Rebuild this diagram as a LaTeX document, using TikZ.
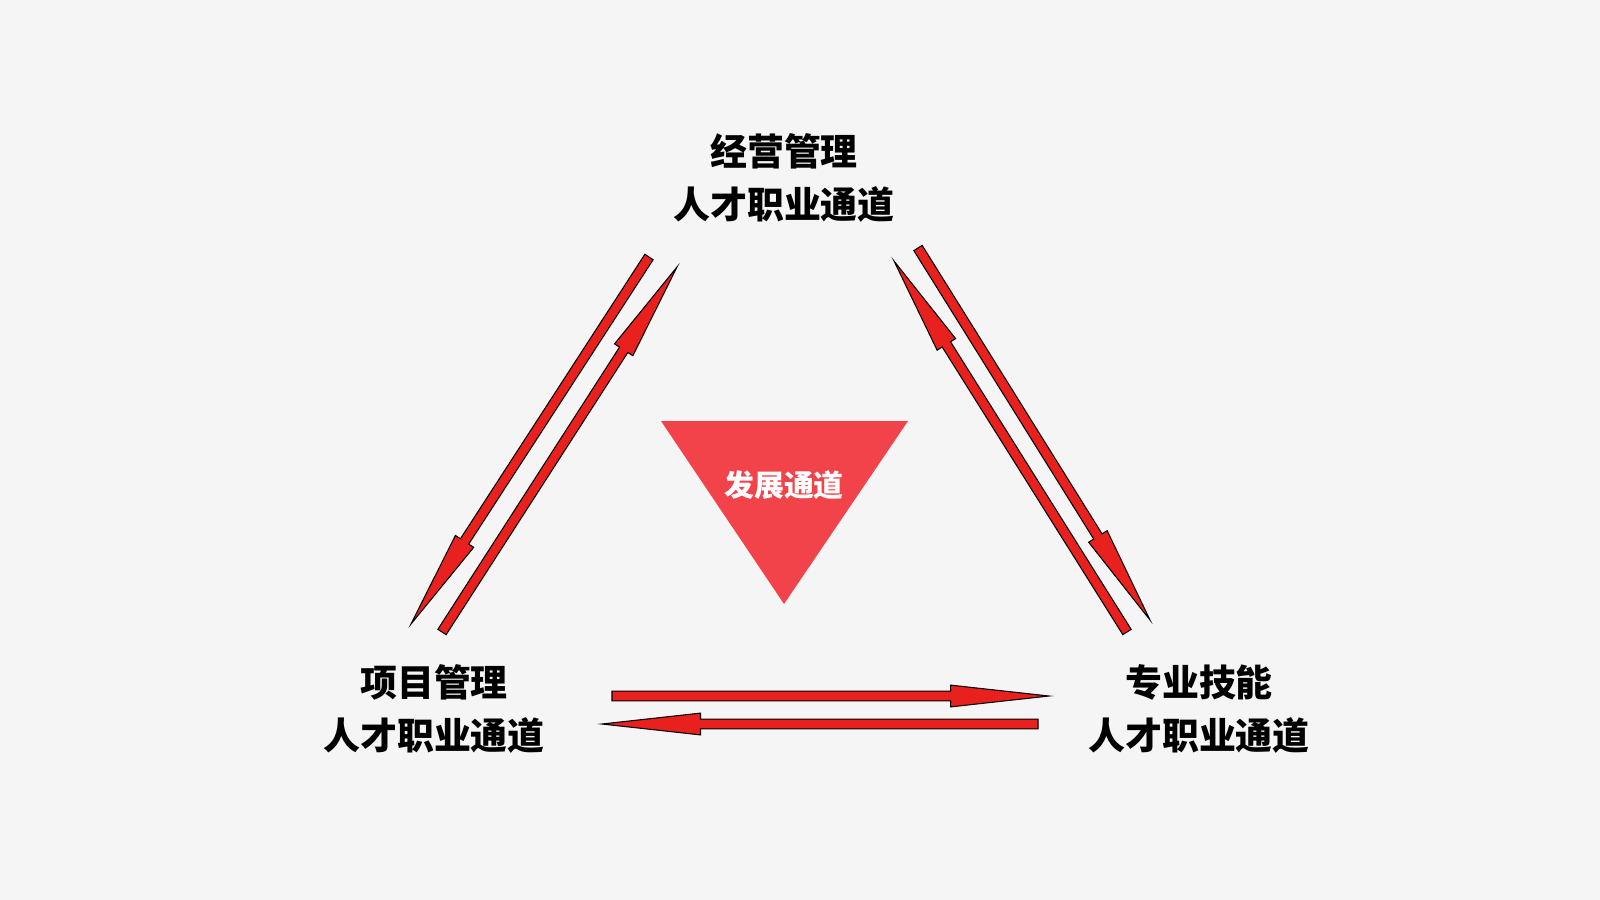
\documentclass[tikz,border=0pt]{standalone}
\usepackage{fontspec}
\newfontfamily\cjk{Noto Sans CJK SC}
\usetikzlibrary{calc}
\definecolor{bg}{HTML}{F5F5F5}
\definecolor{arrowred}{HTML}{E8211E}
\definecolor{trired}{HTML}{F2434A}
\tikzset{
  lbl/.style={font=\cjk\bfseries\fontsize{10.5}{15}\selectfont, align=center, text=black},
  tri/.style={fill=trired, draw=none},
}
% red arrow with a thin black rim, from #1 to #2
\newcommand\redarrow[2]{%
\path let \p1=($(#2)-(#1)$), \n1={atan2(\y1,\x1)}, \n2={veclen(\x1,\y1)} in
  [shift={(#1)}, rotate=\n1]
  [fill=arrowred, draw=black, line width=0.3pt]
  (0pt,-1.4pt) -- (\n2-28pt,-1.4pt) -- (\n2-28pt,-3.1pt) -- (\n2,0pt)
  -- (\n2-28pt,3.1pt) -- (\n2-28pt,1.4pt) -- (0pt,1.4pt) -- cycle;}
\begin{document}
\begin{tikzpicture}[x=0.01cm,y=-0.01cm]
\fill[bg] (0,0) rectangle (1600,900);
\useasboundingbox (0,0) rectangle (1600,900);

\node[lbl] (top) at (784,178) {经营管理\\人才职业通道};
\node[lbl] (left) at (434,709) {项目管理\\人才职业通道};
\node[lbl] (right) at (1199,709) {专业技能\\人才职业通道};

% centre triangle
\fill[tri] (661,421) -- (908,421) -- (784,604) -- cycle;
\node[font=\cjk\bfseries\fontsize{8.5}{10}\selectfont, text=white] (mid) at (784,485) {发展通道};

% ends of the arrows
\coordinate (tl1) at (649,257); \coordinate (lt1) at (411,624);
\coordinate (lt2) at (442,632); \coordinate (tl2) at (677,267);
\coordinate (tr1) at (918,248); \coordinate (rt1) at (1150,620);
\coordinate (rt2) at (1127,632); \coordinate (tr2) at (894,261);
\coordinate (lr1) at (612,696); \coordinate (rl1) at (1049,696);
\coordinate (rl2) at (1038,724); \coordinate (lr2) at (602,724);

\redarrow{tl1}{lt1}
\redarrow{lt2}{tl2}
\redarrow{tr1}{rt1}
\redarrow{rt2}{tr2}
\redarrow{lr1}{rl1}
\redarrow{rl2}{lr2}
\end{tikzpicture}
\end{document}
